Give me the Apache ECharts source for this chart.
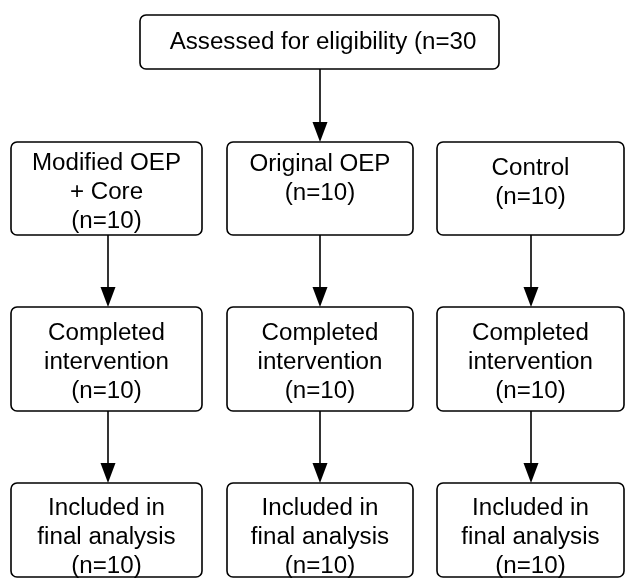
<!DOCTYPE html>
<html>
<head>
<meta charset="utf-8">
<script src="https://cdn.jsdelivr.net/npm/echarts@6/dist/echarts.min.js"></script>
<style>
  html, body { margin: 0; padding: 0; background: #fff; }
  #main { width: 626px; height: 578px; }
</style>
</head>
<body>
<div id="main"></div>
<script>
// flow chart text
const topLabel = "Assessed for eligibility (n=30";
const groupNames = ["Modified OEP\n+ Core", "Original OEP", "Control"];
const groupN = [10, 10, 10];
const stageNames = ["Completed\nintervention", "Included in\nfinal analysis"];
const completedN = [10, 10, 10];
const analysedN = [10, 10, 10];

// layout (axis units = pixels)
const colLeft = [11, 227, 437];
const colRight = [202, 413, 624];
const colMid = [108, 320, 531];
const rowTop = [15, 142, 307, 483];
const rowBottom = [69, 235, 411, 577];
const topBox = [140, 499];
const groupTextMid = [193, 179, 183.5];
const stageTextMid = [363, 537.5];

// build boxes: [x0, x1, y0, y1, textMid, textX]
const boxText = [];
const boxData = [];
boxText.push(topLabel);
boxData.push([topBox[0], topBox[1], rowTop[0], rowBottom[0], 43, 323]);
for (let i = 0; i < 3; i++) {
  boxText.push(groupNames[i] + "\n(n=" + groupN[i] + ")");
  boxData.push([colLeft[i], colRight[i], rowTop[1], rowBottom[1], groupTextMid[i], (colLeft[i] + colRight[i]) / 2]);
}
const stageCounts = [completedN, analysedN];
for (let s = 0; s < 2; s++) {
  for (let i = 0; i < 3; i++) {
    boxText.push(stageNames[s] + "\n(n=" + stageCounts[s][i] + ")");
    boxData.push([colLeft[i], colRight[i], rowTop[s + 2], rowBottom[s + 2], stageTextMid[s], (colLeft[i] + colRight[i]) / 2]);
  }
}

// arrows: [x, yFrom, yTo]
const arrowData = [[colMid[1], rowBottom[0], rowTop[1]]];
for (let r = 1; r < 3; r++) {
  for (let i = 0; i < 3; i++) {
    arrowData.push([colMid[i], rowBottom[r], rowTop[r + 1]]);
  }
}

const LINE_H = 29;

var myChart = echarts.init(document.getElementById("main"));

var option = {
  animation: false,
  backgroundColor: "#fff",
  grid: { left: 0, right: 0, top: 0, bottom: 0 },
  xAxis: { type: "value", min: 0, max: 626, show: false },
  yAxis: { type: "value", min: 0, max: 578, inverse: true, show: false },
  series: [
    {
      type: "custom",
      coordinateSystem: "cartesian2d",
      data: boxData,
      renderItem: function (params, api) {
        var p0 = api.coord([api.value(0), api.value(2)]);
        var p1 = api.coord([api.value(1), api.value(3)]);
        var mid = api.coord([api.value(5), api.value(4)]);
        var lines = boxText[params.dataIndex].split("\n");
        var children = [
          {
            type: "rect",
            shape: { x: p0[0], y: p0[1], width: p1[0] - p0[0], height: p1[1] - p0[1], r: 6 },
            style: { fill: "#fff", stroke: "#000", lineWidth: 1.6 },
          },
        ];
        var start = mid[1] - ((lines.length - 1) * LINE_H) / 2;
        lines.forEach(function (t, k) {
          children.push({
            type: "text",
            x: mid[0],
            y: start + k * LINE_H,
            scaleX: 1.05,
            style: {
              text: t,
              fill: "#000",
              fontSize: 23,
              fontFamily: "Liberation Sans, Arial, sans-serif",
              align: "center",
              verticalAlign: "middle",
            },
          });
        });
        return { type: "group", children: children };
      },
    },
    {
      type: "custom",
      coordinateSystem: "cartesian2d",
      data: arrowData,
      renderItem: function (params, api) {
        var a = api.coord([api.value(0), api.value(1)]);
        var b = api.coord([api.value(0), api.value(2)]);
        var headL = 20, headW = 7.5;
        return {
          type: "group",
          children: [
            {
              type: "line",
              shape: { x1: a[0], y1: a[1], x2: b[0], y2: b[1] - headL + 2 },
              style: { stroke: "#000", lineWidth: 1.6 },
            },
            {
              type: "polygon",
              shape: { points: [[b[0] - headW, b[1] - headL], [b[0] + headW, b[1] - headL], [b[0], b[1]]] },
              style: { fill: "#000" },
            },
          ],
        };
      },
    },
  ],
};

option && myChart.setOption(option);
</script>
</body>
</html>
